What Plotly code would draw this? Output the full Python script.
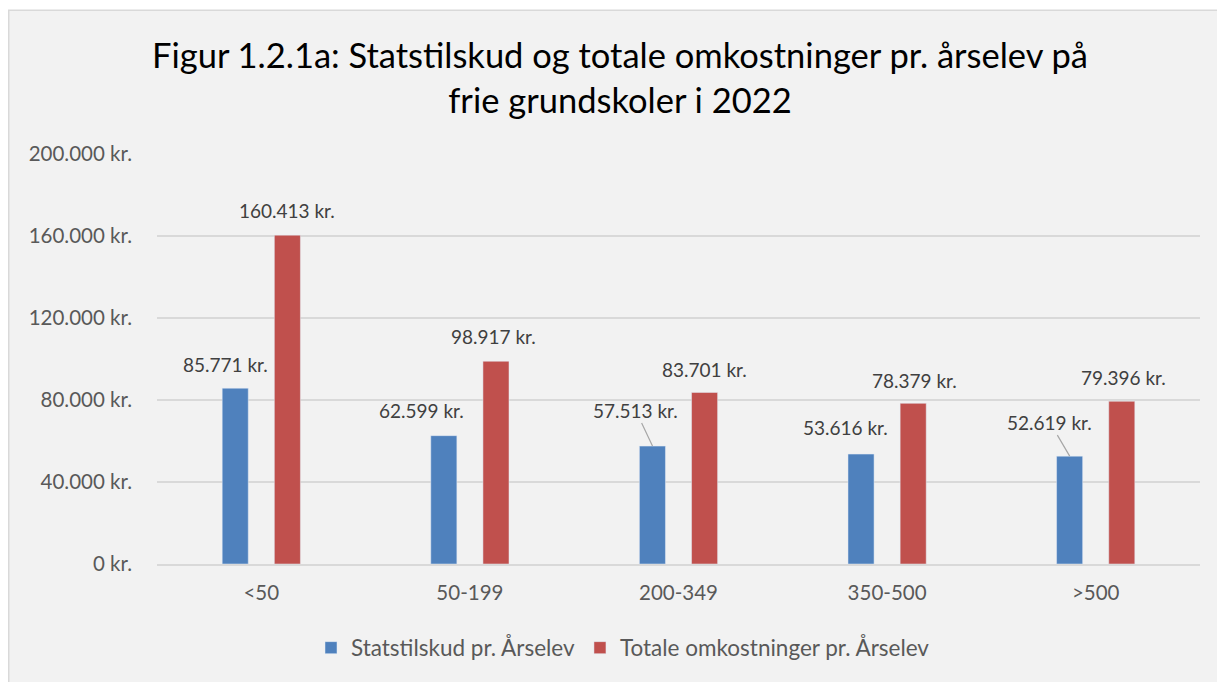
import plotly.graph_objects as go

categories = ["<50", "50-199", "200-349", "350-500", ">500"]
statstilskud = [85771, 62599, 57513, 53616, 52619]
omkostninger = [160413, 98917, 83701, 78379, 79396]
y_ticks = [0, 40000, 80000, 120000, 160000, 200000]
series_names = ["Statstilskud pr. Årselev", "Totale omkostninger pr. Årselev"]

FONT = "Lato"
BLUE = "#4f81bd"
RED = "#c0504d"

def fmt(v):
    return f"{v:,}".replace(",", ".") + " kr."

fig = go.Figure()
fig.add_trace(go.Bar(x=categories, y=statstilskud, name=series_names[0],
                     marker=dict(color=BLUE)))
fig.add_trace(go.Bar(x=categories, y=omkostninger, name=series_names[1],
                     marker=dict(color=RED)))

LBL = dict(family=FONT, size=19, color="#404040")
# label placement (pixel offsets relative to bar top centre)
blue_off = [(-10, -24), (-22, -25), (-17, -36), (-16, -27), (-20, -34)]
blue_arrow = [False, False, True, False, True]
red_off = [(0, -25), (-2, -25), (0, -23), (1, -23), (2, -24)]

annotations = []
for i, c in enumerate(categories):
    dx, dy = blue_off[i]
    if blue_arrow[i]:
        annotations.append(dict(x=c, y=statstilskud[i], xref="x", yref="y",
                                text=fmt(statstilskud[i]), showarrow=True,
                                arrowhead=0, arrowwidth=1.2, arrowcolor="#a6a6a6",
                                ax=dx, ay=dy, xshift=-26, standoff=0,
                                font=LBL))
    else:
        annotations.append(dict(x=c, y=statstilskud[i], xref="x", yref="y",
                                text=fmt(statstilskud[i]), showarrow=False,
                                xshift=-26 + dx, yshift=-dy,
                                font=LBL))
    dx, dy = red_off[i]
    annotations.append(dict(x=c, y=omkostninger[i], xref="x", yref="y",
                            text=fmt(omkostninger[i]), showarrow=False,
                            xshift=26 + dx, yshift=-dy,
                            font=LBL))

# page has an 8px body margin; figure coordinates = page coordinates - 8
OFF = 8
W, H = 1225 - OFF, 682 - OFF
L, T = 157 - OFF, 153.5 - OFF
R = W - (1200 - OFF)
B = H - (564 - OFF)
pw, ph = W - L - R, H - T - B
def px2x(px):
    return (px - OFF - L) / pw
def py2y(py):
    return (H - B - (py - OFF)) / ph

fig.update_layout(
    width=W, height=H,
    margin=dict(l=L, r=R, t=T, b=B, autoexpand=False),
    paper_bgcolor="white",
    plot_bgcolor="rgba(0,0,0,0)",
    separators=",.",
    barmode="group",
    bargap=0.5,
    bargroupgap=0.5,
    title=dict(text="Figur 1.2.1a: Statstilskud og totale omkostninger pr. årselev på<br>frie grundskoler i 2022",
               x=(620 - OFF) / W, xref="container", xanchor="center",
               y=1 - 60 / H, yref="container", yanchor="middle",
               font=dict(family=FONT, size=34.5, color="#000000")),
    font=dict(family=FONT, color="#595959"),
    xaxis=dict(showgrid=False, showline=True, linecolor="#d9d9d9", linewidth=1.5,
               automargin=False,
               tickfont=dict(family=FONT, size=20.5, color="#595959"),
               ticklabelstandoff=10),
    yaxis=dict(range=[0, 200000], tickvals=y_ticks,
               ticktext=[fmt(v) for v in y_ticks],
               showgrid=True, gridcolor="#d9d9d9", gridwidth=1.5,
               zeroline=False, showline=False, automargin=False,
               tickfont=dict(family=FONT, size=20.5, color="#595959"),
               ticklabelstandoff=24),
    legend=dict(orientation="h", x=(623 - OFF) / W, xref="container", xanchor="center",
                yref="container", y=1 - (648 - OFF) / H, yanchor="middle",
                font=dict(family=FONT, size=22.5, color="#595959"),
                bgcolor="rgba(0,0,0,0)", itemwidth=30),
    shapes=[dict(type="rect", xref="paper", yref="paper", layer="below",
                 x0=px2x(8.75), x1=px2x(1240), y0=py2y(700), y1=py2y(9.5),
                 fillcolor="#f2f2f2", line=dict(color="#d9d9d9", width=1.5))],
    annotations=annotations,
    showlegend=True,
)
fig.write_html("out.html")
